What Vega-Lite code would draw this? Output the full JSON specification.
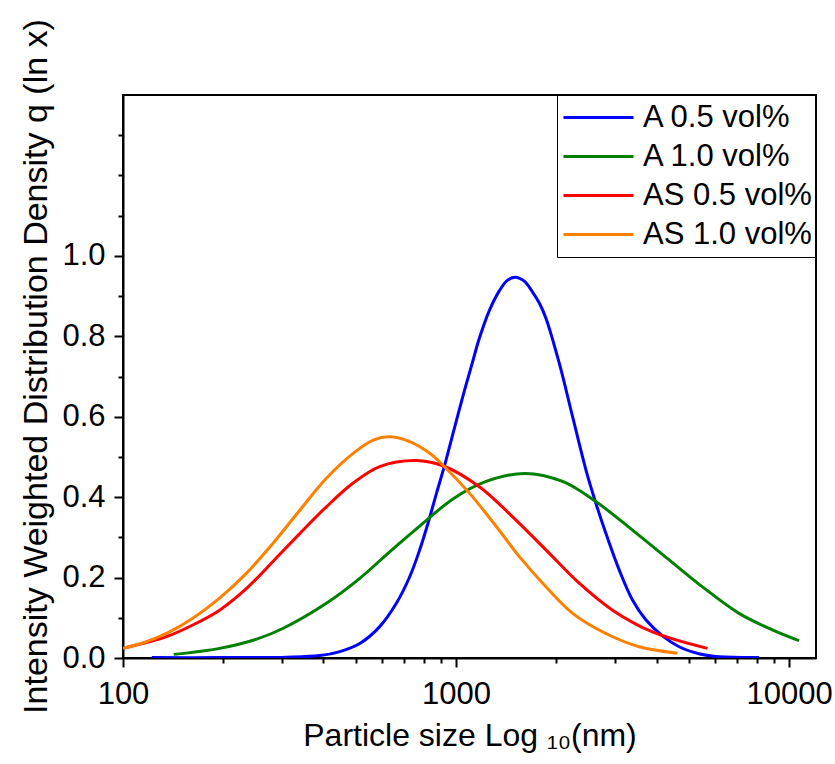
{
  "$schema": "https://vega.github.io/schema/vega-lite/v6.json",
  "width": 693,
  "height": 563,
  "autosize": {"type": "none"},
  "padding": {"left": 123, "top": 95, "right": 19, "bottom": 106},
  "background": "white",
  "config": {
    "font": "Liberation Sans",
    "view": {"stroke": "black", "strokeWidth": 2},
    "axis": {"grid": false, "domainColor": "black", "domainWidth": 2, "tickColor": "black", "tickWidth": 2, "labelColor": "black", "titleColor": "black", "labelFont": "Liberation Sans", "titleFont": "Liberation Sans", "titleFontWeight": "normal"},
    "legend": {"labelFont": "Liberation Sans"}
  },
  "data": {"values": [
    {"series": "A 0.5 vol%", "size": 122, "q": 0.001},
    {"series": "A 0.5 vol%", "size": 195, "q": 0.001},
    {"series": "A 0.5 vol%", "size": 310, "q": 0.002},
    {"series": "A 0.5 vol%", "size": 390, "q": 0.006},
    {"series": "A 0.5 vol%", "size": 448, "q": 0.016},
    {"series": "A 0.5 vol%", "size": 514, "q": 0.036},
    {"series": "A 0.5 vol%", "size": 590, "q": 0.078},
    {"series": "A 0.5 vol%", "size": 662, "q": 0.136},
    {"series": "A 0.5 vol%", "size": 726, "q": 0.202},
    {"series": "A 0.5 vol%", "size": 778, "q": 0.269},
    {"series": "A 0.5 vol%", "size": 824, "q": 0.335},
    {"series": "A 0.5 vol%", "size": 874, "q": 0.41},
    {"series": "A 0.5 vol%", "size": 925, "q": 0.48},
    {"series": "A 0.5 vol%", "size": 977, "q": 0.555},
    {"series": "A 0.5 vol%", "size": 1048, "q": 0.65},
    {"series": "A 0.5 vol%", "size": 1122, "q": 0.737},
    {"series": "A 0.5 vol%", "size": 1175, "q": 0.795},
    {"series": "A 0.5 vol%", "size": 1259, "q": 0.864},
    {"series": "A 0.5 vol%", "size": 1349, "q": 0.913},
    {"series": "A 0.5 vol%", "size": 1426, "q": 0.939},
    {"series": "A 0.5 vol%", "size": 1507, "q": 0.947},
    {"series": "A 0.5 vol%", "size": 1603, "q": 0.937},
    {"series": "A 0.5 vol%", "size": 1698, "q": 0.91},
    {"series": "A 0.5 vol%", "size": 1780, "q": 0.882},
    {"series": "A 0.5 vol%", "size": 1862, "q": 0.845},
    {"series": "A 0.5 vol%", "size": 2042, "q": 0.733},
    {"series": "A 0.5 vol%", "size": 2239, "q": 0.6},
    {"series": "A 0.5 vol%", "size": 2455, "q": 0.468},
    {"series": "A 0.5 vol%", "size": 2630, "q": 0.385},
    {"series": "A 0.5 vol%", "size": 2818, "q": 0.31},
    {"series": "A 0.5 vol%", "size": 3090, "q": 0.219},
    {"series": "A 0.5 vol%", "size": 3388, "q": 0.144},
    {"series": "A 0.5 vol%", "size": 3715, "q": 0.095},
    {"series": "A 0.5 vol%", "size": 4169, "q": 0.055},
    {"series": "A 0.5 vol%", "size": 4677, "q": 0.028},
    {"series": "A 0.5 vol%", "size": 5400, "q": 0.01},
    {"series": "A 0.5 vol%", "size": 6166, "q": 0.003},
    {"series": "A 0.5 vol%", "size": 8128, "q": 0.001},
    {"series": "A 1.0 vol%", "size": 142, "q": 0.009},
    {"series": "A 1.0 vol%", "size": 195, "q": 0.024},
    {"series": "A 1.0 vol%", "size": 252, "q": 0.047},
    {"series": "A 1.0 vol%", "size": 303, "q": 0.074},
    {"series": "A 1.0 vol%", "size": 408, "q": 0.136},
    {"series": "A 1.0 vol%", "size": 514, "q": 0.198},
    {"series": "A 1.0 vol%", "size": 632, "q": 0.264},
    {"series": "A 1.0 vol%", "size": 778, "q": 0.328},
    {"series": "A 1.0 vol%", "size": 977, "q": 0.395},
    {"series": "A 1.0 vol%", "size": 1232, "q": 0.439},
    {"series": "A 1.0 vol%", "size": 1610, "q": 0.459},
    {"series": "A 1.0 vol%", "size": 2090, "q": 0.439},
    {"series": "A 1.0 vol%", "size": 2630, "q": 0.389},
    {"series": "A 1.0 vol%", "size": 3388, "q": 0.318},
    {"series": "A 1.0 vol%", "size": 4365, "q": 0.244},
    {"series": "A 1.0 vol%", "size": 5495, "q": 0.177},
    {"series": "A 1.0 vol%", "size": 7079, "q": 0.111},
    {"series": "A 1.0 vol%", "size": 8912, "q": 0.07},
    {"series": "A 1.0 vol%", "size": 10715, "q": 0.043},
    {"series": "AS 0.5 vol%", "size": 100, "q": 0.024},
    {"series": "AS 0.5 vol%", "size": 135, "q": 0.053},
    {"series": "AS 0.5 vol%", "size": 162, "q": 0.082},
    {"series": "AS 0.5 vol%", "size": 195, "q": 0.119},
    {"series": "AS 0.5 vol%", "size": 235, "q": 0.173},
    {"series": "AS 0.5 vol%", "size": 282, "q": 0.24},
    {"series": "AS 0.5 vol%", "size": 340, "q": 0.31},
    {"series": "AS 0.5 vol%", "size": 408, "q": 0.376},
    {"series": "AS 0.5 vol%", "size": 491, "q": 0.435},
    {"series": "AS 0.5 vol%", "size": 590, "q": 0.476},
    {"series": "AS 0.5 vol%", "size": 760, "q": 0.491},
    {"series": "AS 0.5 vol%", "size": 912, "q": 0.478},
    {"series": "AS 0.5 vol%", "size": 1175, "q": 0.426},
    {"series": "AS 0.5 vol%", "size": 1479, "q": 0.351},
    {"series": "AS 0.5 vol%", "size": 1862, "q": 0.269},
    {"series": "AS 0.5 vol%", "size": 2344, "q": 0.186},
    {"series": "AS 0.5 vol%", "size": 2951, "q": 0.119},
    {"series": "AS 0.5 vol%", "size": 3890, "q": 0.065},
    {"series": "AS 0.5 vol%", "size": 5690, "q": 0.024},
    {"series": "AS 1.0 vol%", "size": 100, "q": 0.024},
    {"series": "AS 1.0 vol%", "size": 118, "q": 0.041},
    {"series": "AS 1.0 vol%", "size": 138, "q": 0.065},
    {"series": "AS 1.0 vol%", "size": 162, "q": 0.099},
    {"series": "AS 1.0 vol%", "size": 195, "q": 0.149},
    {"series": "AS 1.0 vol%", "size": 235, "q": 0.211},
    {"series": "AS 1.0 vol%", "size": 282, "q": 0.285},
    {"series": "AS 1.0 vol%", "size": 340, "q": 0.368},
    {"series": "AS 1.0 vol%", "size": 408, "q": 0.447},
    {"series": "AS 1.0 vol%", "size": 491, "q": 0.509},
    {"series": "AS 1.0 vol%", "size": 564, "q": 0.542},
    {"series": "AS 1.0 vol%", "size": 632, "q": 0.55},
    {"series": "AS 1.0 vol%", "size": 726, "q": 0.538},
    {"series": "AS 1.0 vol%", "size": 834, "q": 0.509},
    {"series": "AS 1.0 vol%", "size": 912, "q": 0.48},
    {"series": "AS 1.0 vol%", "size": 1097, "q": 0.41},
    {"series": "AS 1.0 vol%", "size": 1321, "q": 0.327},
    {"series": "AS 1.0 vol%", "size": 1550, "q": 0.252},
    {"series": "AS 1.0 vol%", "size": 1862, "q": 0.177},
    {"series": "AS 1.0 vol%", "size": 2239, "q": 0.111},
    {"series": "AS 1.0 vol%", "size": 2818, "q": 0.061},
    {"series": "AS 1.0 vol%", "size": 3548, "q": 0.028},
    {"series": "AS 1.0 vol%", "size": 4624, "q": 0.012}
  ]},
  "mark": {"type": "line", "strokeWidth": 3, "interpolate": "catmull-rom", "clip": true},
  "encoding": {
    "x": {
      "field": "size", "type": "quantitative",
      "scale": {"type": "log", "domain": [100, 12050], "nice": false},
      "axis": {
        "title": "Particle size Log ₁₀(nm)",
        "titleFontSize": 32,
        "titlePadding": 11,
        "labelFontSize": 31,
        "labelPadding": 12,
        "values": [100, 200, 300, 400, 500, 600, 700, 800, 900, 1000, 2000, 3000, 4000, 5000, 6000, 7000, 8000, 9000, 10000],
        "labelExpr": "(datum.value == 100 || datum.value == 1000 || datum.value == 10000) ? format(datum.value, 'd') : ''",
        "labelFlush": false,
        "labelOverlap": false,
        "tickSize": {"condition": {"test": "datum.value == 100 || datum.value == 1000 || datum.value == 10000", "value": 9}, "value": 5}
      }
    },
    "y": {
      "field": "q", "type": "quantitative",
      "scale": {"domain": [0, 1.4], "nice": false, "zero": true},
      "axis": {
        "title": "Intensity Weighted Distribution Density q (ln x)",
        "titleFontSize": 34,
        "titlePadding": 8,
        "titleY": 271,
        "labelFontSize": 31,
        "labelPadding": 9,
        "values": [0, 0.1, 0.2, 0.3, 0.4, 0.5, 0.6, 0.7, 0.8, 0.9, 1.0, 1.1, 1.2, 1.3],
        "labelExpr": "(round(datum.value * 10) % 2 == 0 && datum.value < 1.05) ? format(datum.value, '.1f') : ''",
        "labelFlush": false,
        "labelOverlap": false,
        "tickSize": {"condition": {"test": "round(datum.value * 10) % 2 == 0 && datum.value < 1.05", "value": 9}, "value": 5}
      }
    },
    "color": {
      "field": "series", "type": "nominal",
      "scale": {"domain": ["A 0.5 vol%", "A 1.0 vol%", "AS 0.5 vol%", "AS 1.0 vol%"], "range": ["#0000FF", "#008000", "#FF0000", "#FF8000"]},
      "legend": {
        "title": null,
        "orient": "none",
        "legendX": 434,
        "legendY": 0,
        "symbolType": "stroke",
        "symbolSize": 4900,
        "symbolStrokeWidth": 3,
        "symbolOffset": 2,
        "clipHeight": 39,
        "rowPadding": 0,
        "padding": 3,
        "labelOffset": 8,
        "labelFontSize": 31,
        "labelColor": "black",
        "labelLimit": 400,
        "strokeColor": "black",
        "fillColor": "white"
      }
    }
  }
}
